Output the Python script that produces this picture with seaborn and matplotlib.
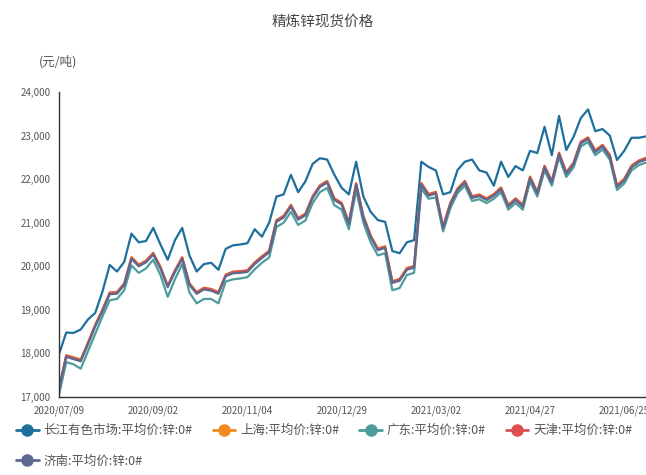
import numpy as np
import pandas as pd
import matplotlib
matplotlib.use("Agg")
import matplotlib.pyplot as plt
from matplotlib.lines import Line2D
from matplotlib.ticker import FuncFormatter
import seaborn as sns

# ==========================================
# データ (3営業日ごとに読み取り)
# ==========================================
day_step = 3

changjiang = [
    17980, 18480, 18470, 18550, 18780, 18930, 19420, 20030, 19880, 20100,
    20750, 20550, 20580, 20880, 20500, 20150, 20600, 20880, 20250, 19880,
    20050, 20080, 19920, 20400, 20480, 20500, 20530, 20850, 20680, 21000,
    21600, 21650, 22100, 21700, 21950, 22350, 22480, 22450, 22100, 21800,
    21650, 22400, 21600, 21250, 21060, 21020, 20350, 20300, 20550, 20600,
    22400, 22280, 22200, 21650, 21700, 22210, 22400, 22450, 22200, 22150,
    21850, 22400, 22050, 22300, 22200, 22650, 22600, 23200, 22550, 23450,
    22670, 22970, 23400, 23600, 23100, 23150, 23000, 22440, 22650, 22950,
    22950, 22980,
]
shanghai = [
    17210, 17960, 17910, 17860, 18250, 18660, 19010, 19400, 19410, 19610,
    20210, 20040, 20130, 20310, 19990, 19560, 19910, 20210, 19610, 19410,
    19510, 19480, 19410, 19810, 19880, 19890, 19910, 20090, 20230, 20360,
    21060, 21160, 21410, 21110, 21210, 21610, 21860, 21960, 21560, 21460,
    21010, 21910, 21160, 20710, 20410, 20460, 19660, 19710, 19960, 20010,
    21910, 21660, 21710, 20910, 21460, 21790, 21960, 21610, 21650, 21560,
    21660, 21810, 21410, 21560, 21410, 22060, 21710, 22310, 21960, 22610,
    22160, 22380, 22860, 22960, 22660, 22790, 22560, 21860, 22010, 22310,
    22430, 22490,
]
guangdong = [
    17050, 17800, 17750, 17650, 18050, 18450, 18850, 19220, 19250, 19450,
    20020, 19850, 19950, 20150, 19800, 19300, 19700, 20050, 19400, 19150,
    19250, 19250, 19150, 19650, 19700, 19720, 19750, 19930, 20080, 20200,
    20900, 21000, 21250, 20950, 21050, 21450, 21700, 21800, 21400, 21300,
    20850, 21750, 21000, 20550, 20250, 20300, 19450, 19500, 19800, 19850,
    21780, 21550, 21580, 20800, 21330, 21680, 21850, 21500, 21540, 21450,
    21550, 21700, 21300, 21450, 21300, 21950, 21600, 22200, 21850, 22500,
    22050, 22270, 22750, 22850, 22550, 22680, 22450, 21750, 21900, 22200,
    22320, 22380,
]
tianjin = [
    17200, 17950, 17900, 17850, 18240, 18650, 19000, 19390, 19400, 19600,
    20200, 20030, 20120, 20300, 19980, 19550, 19900, 20200, 19600, 19400,
    19500, 19470, 19400, 19800, 19870, 19880, 19900, 20080, 20220, 20350,
    21050, 21150, 21400, 21100, 21200, 21600, 21850, 21950, 21550, 21450,
    21000, 21900, 21150, 20700, 20400, 20450, 19650, 19700, 19950, 20000,
    21900, 21650, 21700, 20900, 21450, 21780, 21950, 21600, 21640, 21550,
    21650, 21800, 21400, 21550, 21400, 22050, 21700, 22300, 21950, 22600,
    22150, 22370, 22850, 22950, 22650, 22780, 22550, 21850, 22000, 22300,
    22420, 22480,
]
jinan = [
    17180, 17920, 17870, 17820, 18210, 18620, 18970, 19360, 19370, 19570,
    20170, 20000, 20090, 20270, 19950, 19520, 19870, 20170, 19570, 19370,
    19470, 19440, 19370, 19770, 19840, 19850, 19870, 20050, 20190, 20320,
    21020, 21120, 21370, 21070, 21170, 21570, 21820, 21920, 21520, 21420,
    20970, 21870, 21120, 20670, 20370, 20420, 19620, 19670, 19920, 19970,
    21870, 21620, 21670, 20870, 21420, 21750, 21920, 21570, 21610, 21520,
    21620, 21770, 21370, 21520, 21370, 22020, 21670, 22270, 21920, 22570,
    22120, 22340, 22820, 22920, 22620, 22750, 22520, 21820, 21970, 22270,
    22390, 22450,
]

series_names = [
    "长江有色市场:平均价:锌:0#",
    "上海:平均价:锌:0#",
    "广东:平均价:锌:0#",
    "天津:平均价:锌:0#",
    "济南:平均价:锌:0#",
]
series_values = [changjiang, shanghai, guangdong, tianjin, jinan]
colors = ["#1f6f9c", "#f28a1e", "#4e9c9c", "#dd5050", "#5c6890"]

tick_labels = ["2020/07/09", "2020/09/02", "2020/11/04", "2020/12/29",
               "2021/03/02", "2021/04/27", "2021/06/25"]
tick_every = 39  # 営業日

# long形式へ
rows = []
for name, vals in zip(series_names, series_values):
    for k, v in enumerate(vals):
        rows.append({"day": k * day_step, "price": v, "series": name})
df = pd.DataFrame(rows)

# ==========================================
# 可視化
# ==========================================
sns.set_theme(style="white")
plt.rcParams["font.family"] = ["Noto Sans CJK SC", "DejaVu Sans"]

fig = plt.figure(figsize=(6.46, 4.75), dpi=100)
ax = fig.add_axes([59 / 646, 78 / 475, 587 / 646, 305 / 475])

sns.lineplot(data=df, x="day", y="price", hue="series", hue_order=series_names,
             palette=dict(zip(series_names, colors)), linewidth=1.6,
             legend=False, ax=ax)

ax.set_xlim(0, 243)
ax.set_ylim(17000, 24000)
ax.set_xticks(np.arange(len(tick_labels)) * tick_every)
ax.set_xticklabels(tick_labels)
ax.set_yticks(np.arange(17000, 24001, 1000))
ax.yaxis.set_major_formatter(FuncFormatter(lambda v, p: f"{v:,.0f}"))
ax.set_xlabel("")
ax.set_ylabel("")

for s in ["top", "right"]:
    ax.spines[s].set_visible(False)
for s in ["left", "bottom"]:
    ax.spines[s].set_color("#333333")
    ax.spines[s].set_linewidth(1.0)
ax.tick_params(axis="both", direction="out", length=4, width=1, color="#333333",
               labelsize=7, labelcolor="#555555", pad=2)

fig.text(0.5, 1 - 22 / 475, "精炼锌现货价格", ha="center", va="center",
         fontsize=10.5, color="#444444")
fig.text(58 / 646, 1 - 62 / 475, "(元/吨)", ha="center", va="center",
         fontsize=9, color="#555555")

# 凡例 (列優先なので並べ替え)
handles = [Line2D([0], [0], color=c, lw=2, marker="o", markersize=8) for c in colors]
order = [0, 4, 1, 2, 3]
fig.legend([handles[i] for i in order], [series_names[i] for i in order],
           loc="upper left", bbox_to_anchor=(16 / 646, 1 - 424 / 475), ncol=4,
           frameon=False, fontsize=9, handlelength=1.8, handletextpad=0.4,
           columnspacing=1.6, labelspacing=1.4, borderaxespad=0, borderpad=0,
           labelcolor="#555555")

fig.savefig("out.png", dpi=100)
